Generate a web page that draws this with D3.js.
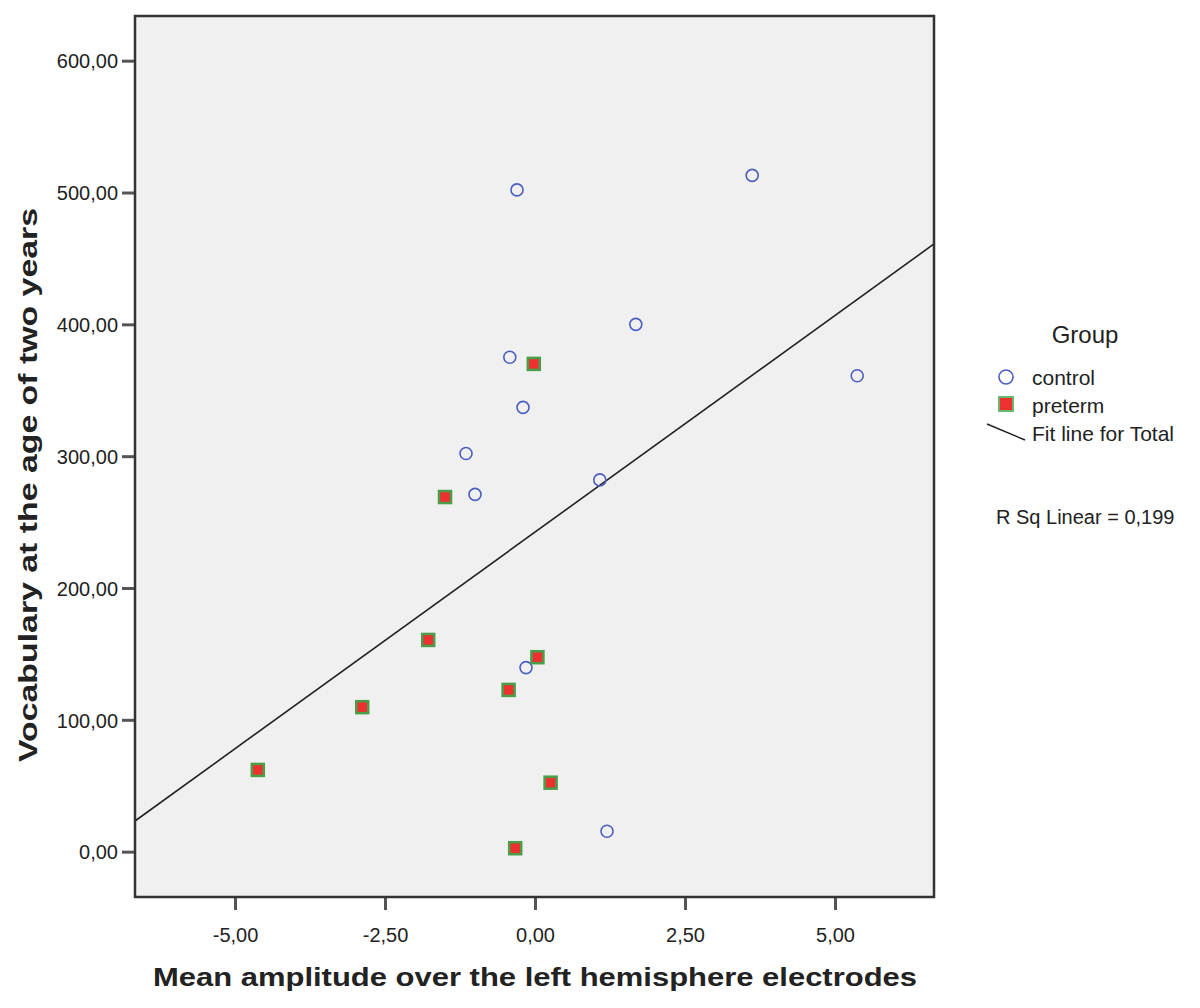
<!DOCTYPE html>
<html>
<head>
<meta charset="utf-8">
<script src="https://cdn.jsdelivr.net/npm/d3@7"></script>
<style>
  body { margin: 0; background: #fff; }
  text { font-family: "Liberation Sans", Arial, sans-serif; fill: #222; }
</style>
</head>
<body>
<div id="chart"></div>
<script>
// data
const controlX = [-0.3, 3.62, 1.68, -0.42, 5.37, -0.2, -1.15, -1.0, 1.08, -0.15, 1.2];
const controlY = [502, 513, 400, 375, 361, 337, 302, 271, 282, 139.6, 15.5];
const pretermX = [-0.02, -1.5, -1.78, -2.88, -4.62, -0.44, 0.04, 0.26, -0.33];
const pretermY = [370, 269, 160.6, 109.6, 62, 122.7, 147.5, 52.3, 2.6];
const xTicks = [-5, -2.5, 0, 2.5, 5];
const yTicks = [0, 100, 200, 300, 400, 500, 600];
const fitIntercept = 242.4;
const fitSlope = 32.87;
const rSq = "0,199";

const control = controlX.map((x, i) => ({x: x, y: controlY[i]}));
const preterm = pretermX.map((x, i) => ({x: x, y: pretermY[i]}));

const width = 1200, height = 1008;
const plot = {left: 135, right: 934, top: 16, bottom: 897};

const svg = d3.select("#chart").append("svg")
    .attr("width", width)
    .attr("height", height);

const xScale = d3.scaleLinear()
    .domain([-6.667, 6.65])
    .range([plot.left, plot.right]);

const yScale = d3.scaleLinear()
    .domain([-34.4, 633.9])
    .range([plot.bottom, plot.top]);

const fmt = d => d3.format(".2f")(d).replace(".", ",").replace("−", "-");

// plot background
svg.append("rect")
    .attr("x", plot.left).attr("y", plot.top)
    .attr("width", plot.right - plot.left)
    .attr("height", plot.bottom - plot.top)
    .attr("fill", "#f0f0f0");

// axes
const xAxis = d3.axisBottom(xScale).tickValues(xTicks).tickFormat(fmt).tickSize(13).tickSizeOuter(0);
const yAxis = d3.axisLeft(yScale).tickValues(yTicks).tickFormat(fmt).tickSize(13).tickSizeOuter(0);

const xg = svg.append("g")
    .attr("transform", `translate(0,${plot.bottom})`)
    .call(xAxis);
const yg = svg.append("g")
    .attr("transform", `translate(${plot.left},0)`)
    .call(yAxis);

[xg, yg].forEach(g => {
    g.select(".domain").remove();
    g.selectAll(".tick line").attr("stroke", "#555").attr("stroke-width", 3);
    g.selectAll(".tick text")
        .attr("font-family", "Liberation Sans, Arial, sans-serif")
        .attr("font-size", 20)
        .attr("fill", "#222");
});
xg.selectAll(".tick text").attr("dy", "1.45em");
yg.selectAll(".tick text").attr("x", -17).attr("dy", "0.36em");

// fit line
const fitLine = d3.line()
    .x(d => xScale(d))
    .y(d => yScale(fitIntercept + fitSlope * d));
svg.append("path")
    .datum(xScale.domain())
    .attr("d", fitLine)
    .attr("fill", "none")
    .attr("stroke", "#222")
    .attr("stroke-width", 1.6);

// frame
svg.append("rect")
    .attr("x", plot.left).attr("y", plot.top)
    .attr("width", plot.right - plot.left)
    .attr("height", plot.bottom - plot.top)
    .attr("fill", "none")
    .attr("stroke", "#333")
    .attr("stroke-width", 2.5);

// points
svg.selectAll(".ctrl")
    .data(control)
    .join("circle")
    .attr("class", "ctrl")
    .attr("cx", d => xScale(d.x))
    .attr("cy", d => yScale(d.y))
    .attr("r", 6)
    .attr("fill", "none")
    .attr("stroke", "#4b5fc0")
    .attr("stroke-width", 1.6);

svg.selectAll(".pre")
    .data(preterm)
    .join("rect")
    .attr("class", "pre")
    .attr("x", d => xScale(d.x) - 6)
    .attr("y", d => yScale(d.y) - 6)
    .attr("width", 12)
    .attr("height", 12)
    .attr("fill", "#ee3030")
    .attr("stroke", "#4a9e4a")
    .attr("stroke-width", 2.5);

// axis titles
svg.append("text")
    .attr("x", (153 + 917) / 2)
    .attr("y", 986)
    .attr("text-anchor", "middle")
    .attr("font-family", "DejaVu Sans, Verdana, sans-serif")
    .attr("font-weight", "bold")
    .attr("font-size", 26)
    .attr("textLength", 764)
    .attr("lengthAdjust", "spacingAndGlyphs")
    .attr("fill", "#111")
    .text("Mean amplitude over the left hemisphere electrodes");

svg.append("text")
    .attr("transform", "translate(37,485) rotate(-90)")
    .attr("text-anchor", "middle")
    .attr("font-family", "DejaVu Sans, Verdana, sans-serif")
    .attr("font-weight", "bold")
    .attr("font-size", 26)
    .attr("textLength", 554)
    .attr("lengthAdjust", "spacingAndGlyphs")
    .attr("fill", "#111")
    .text("Vocabulary at the age of two years");

// legend
const legend = svg.append("g");
legend.append("text")
    .attr("x", 1085).attr("y", 343)
    .attr("text-anchor", "middle")
    .attr("font-size", 24)
    .text("Group");

legend.append("circle")
    .attr("cx", 1006).attr("cy", 377).attr("r", 7)
    .attr("fill", "none").attr("stroke", "#4b5fc0").attr("stroke-width", 1.6);
legend.append("text")
    .attr("x", 1032).attr("y", 385)
    .attr("font-size", 21)
    .text("control");

legend.append("rect")
    .attr("x", 999).attr("y", 397).attr("width", 14).attr("height", 14)
    .attr("fill", "#ee3030").attr("stroke", "#6bb86b").attr("stroke-width", 2);
legend.append("text")
    .attr("x", 1032).attr("y", 413)
    .attr("font-size", 21)
    .text("preterm");

legend.append("line")
    .attr("x1", 987).attr("y1", 424)
    .attr("x2", 1025).attr("y2", 440)
    .attr("stroke", "#222").attr("stroke-width", 1.5);
legend.append("text")
    .attr("x", 1032).attr("y", 441)
    .attr("font-size", 21)
    .text("Fit line for Total");

legend.append("text")
    .attr("x", 996).attr("y", 524)
    .attr("font-size", 20)
    .text("R Sq Linear = " + rSq);
</script>
</body>
</html>
